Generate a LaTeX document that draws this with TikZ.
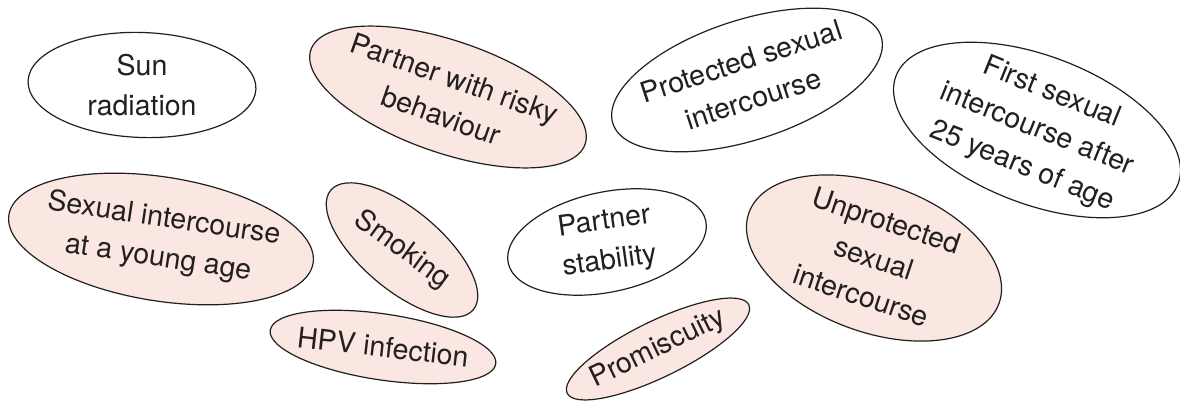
\documentclass[tikz,border=0pt]{standalone}
\usepackage{fontspec}
\setmainfont{TeX Gyre Heros}
\usetikzlibrary{shapes.geometric}
\definecolor{pinkfill}{HTML}{FBE7E1}
\definecolor{ink}{HTML}{231F20}
\begin{document}
\begin{tikzpicture}[x=1pt,y=-1pt,
  oval/.style={ellipse, draw=ink, line width=1.2pt, inner sep=0pt},
  riskoval/.style={oval, fill=pinkfill},
  safeoval/.style={oval, fill=white},
  lbl/.style={text=ink, align=center, inner sep=0pt, font=\fontsize{28.5}{39.5}\selectfont}]
\fill[white] (0,0) rectangle (1180,401);
\useasboundingbox (0,0) rectangle (1180,401);

% ellipses
\node[safeoval, minimum width=228pt, minimum height=105pt, rotate=-2] (sunE) at (142,85) {};
\node[riskoval, minimum width=290pt, minimum height=112pt, rotate=-19] (riskE) at (448,97) {};
\node[safeoval, minimum width=282pt, minimum height=120pt, rotate=18] (protE) at (747,80) {};
\node[safeoval, minimum width=302pt, minimum height=148pt, rotate=-21] (firstE) at (1037,130) {};
\node[riskoval, minimum width=308pt, minimum height=124pt, rotate=-9] (youngE) at (161,239) {};
\node[riskoval, minimum width=186pt, minimum height=80pt, rotate=-40] (smokE) at (402,250) {};
\node[safeoval, minimum width=202pt, minimum height=100pt, rotate=12] (stabE) at (607,242) {};
\node[riskoval, minimum width=266pt, minimum height=148pt, rotate=-20] (unprotE) at (874,258) {};
\node[riskoval, minimum width=228pt, minimum height=66pt, rotate=-8.5] (hpvE) at (383,347) {};
\node[riskoval, minimum width=202pt, minimum height=56pt, rotate=26] (promE) at (658,349) {};

% labels
\node[lbl] (sunT) at (sunE.center) {Sun\\radiation};
\node[lbl, rotate=-19.5] (riskT) at (riskE.center) {Partner with risky\\behaviour};
\node[lbl, rotate=18] (protT) at (protE.center) {Protected sexual\\intercourse};
\node[lbl, rotate=-22] (firstT) at (firstE.center) {First sexual\\intercourse after\\25 years of age};
\node[lbl, rotate=-8.5] (youngT) at (youngE.center) {Sexual intercourse\\at a young age};
\node[lbl, rotate=-36] (smokT) at (smokE.center) {Smoking};
\node[lbl, rotate=8] (stabT) at (stabE.center) {Partner\\stability};
\node[lbl, rotate=-18.5] (unprotT) at (unprotE.center) {Unprotected\\sexual\\intercourse};
\node[lbl, rotate=-6.5] (hpvT) at (hpvE.center) {HPV infection};
\node[lbl, rotate=26] (promT) at (promE.center) {Promiscuity};
\end{tikzpicture}
\end{document}
